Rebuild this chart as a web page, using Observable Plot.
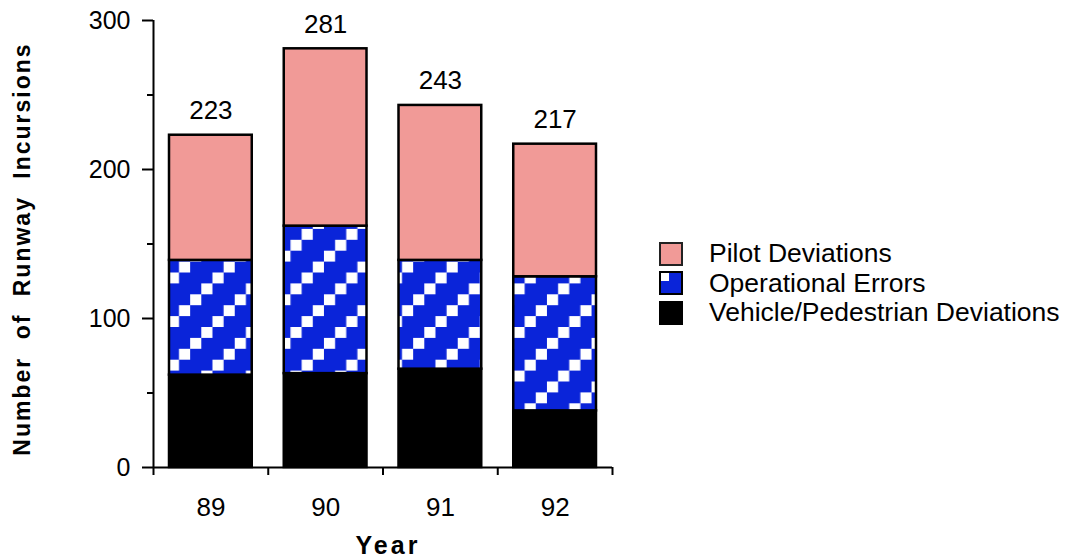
<!DOCTYPE html>
<html>
<head>
<meta charset="utf-8">
<script src="https://cdn.jsdelivr.net/npm/d3@7"></script>
<script src="https://cdn.jsdelivr.net/npm/@observablehq/plot@0.6"></script>
<style>
  body { margin: 0; background: #fff; font-family: "Liberation Sans", Arial, Helvetica, sans-serif; }
  #wrap { position: relative; width: 1067px; height: 557px; overflow: hidden; }
  #chart { position: absolute; left: 0; top: 0; }
  #legend { position: absolute; left: 659px; top: 239px; }
  .row { display: flex; align-items: center; height: 29.5px; font-size: 26.5px; color: #000; white-space: nowrap; }
  .row svg { flex: none; margin-right: 25px; }
</style>
</head>
<body>
<div id="wrap">
  <div id="chart"></div>
  <div id="legend"></div>
</div>
<script>
// ---- data ----
const years = [89, 90, 91, 92];
const xTickLabels = ["89", "90", "91", "92"];
const series = ["Vehicle/Pedestrian Deviations", "Operational Errors", "Pilot Deviations"];
const vehicle = [62, 63, 66, 38];
const operational = [77, 99, 73, 90];
const pilot = [84, 119, 104, 89];
const totals = [223, 281, 243, 217];
const yTicks = [0, 100, 200, 300];
const yMinorTicks = [50, 150, 250];
const yTitle = "Number of Runway Incursions";
const xTitle = "Year";

// ---- styles ----
const PINK = "#F19A97";
const BLUE = "#0A24D9";
const colors = ["#000000", "url(#checker)", PINK];

const seriesValues = [vehicle, operational, pilot];
const table = [];
years.forEach((yr, i) => {
  let base = 0;
  seriesValues.forEach((vals, s) => {
    table.push({year: yr, series: series[s], y1: base, y2: base + vals[i]});
    base += vals[i];
  });
});

const X0 = d3.min(years) - 0.5;
const X1 = d3.max(years) + 0.5;
const boundaries = [...years.map(y => y - 0.5), X1];
const yMax = d3.max(yTicks);

const chart = Plot.plot({
  width: 640,
  height: 557,
  marginLeft: 153,
  marginRight: 28,
  marginTop: 20,
  marginBottom: 90,
  style: {fontFamily: "'Liberation Sans', Arial, Helvetica, sans-serif", color: "#000", background: "#fff", overflow: "visible"},
  x: {type: "linear", domain: [X0, X1], axis: null},
  y: {domain: [0, yMax], axis: null},
  color: {type: "ordinal", domain: series, range: colors},
  marks: [
    Plot.rect(table, {
      x1: d => d.year - 0.5, x2: d => d.year + 0.5,
      y1: "y1", y2: "y2",
      fill: "series", stroke: "#000", strokeWidth: 2.5,
      insetLeft: 16, insetRight: 16
    }),
    Plot.ruleX([X0], {y1: 0, y2: yMax, strokeWidth: 2}),
    Plot.ruleY([0], {x1: X0, x2: X1, strokeWidth: 2}),
    Plot.axisY(yTicks, {tickSize: 11, tickPadding: 12, fontSize: 25, strokeWidth: 2, tickFormat: d => String(d)}),
    Plot.axisY(yMinorTicks, {tickSize: 6, strokeWidth: 2, tickFormat: () => ""}),
    Plot.axisX(boundaries, {tickSize: 8, strokeWidth: 2, tickFormat: () => ""}),
    Plot.axisX(years, {tickSize: 0, tickPadding: 30, fontSize: 26, tickFormat: (d, i) => xTickLabels[years.indexOf(d)]}),
    Plot.text(years, {x: d => d, y: (d, i) => totals[i], text: (d, i) => String(totals[i]), lineAnchor: "bottom", dy: -16, fontSize: 26}),
    Plot.text([yTitle], {frameAnchor: "left", textAnchor: "middle", dx: -131, dy: 5, rotate: -90, fontSize: 23, fontWeight: "bold"}),
    Plot.text([xTitle], {frameAnchor: "bottom", lineAnchor: "bottom", dx: 5, dy: 86, fontSize: 25, fontWeight: "bold"})
  ]
});

// pattern for the operational errors
const svg = d3.select(chart);
const defs = svg.insert("defs", ":first-child");
const tw = 44.6, th = 43.6;
const pat = defs.append("pattern")
  .attr("id", "checker")
  .attr("patternUnits", "userSpaceOnUse")
  .attr("x", 11.75).attr("y", 0)
  .attr("width", tw).attr("height", th);
pat.append("rect").attr("width", tw).attr("height", th).attr("fill", BLUE);
for (let k = 0; k < 4; k++) {
  pat.append("rect")
    .attr("x", (3 - k) * tw / 4).attr("y", k * th / 4)
    .attr("width", tw / 4).attr("height", th / 4)
    .attr("fill", "#fff");
}

// letter spacing on the axis titles
svg.selectAll("text").each(function() {
  const t = this.textContent;
  if (t === yTitle) { this.style.letterSpacing = "2px"; this.style.wordSpacing = "9px"; }
  if (t === xTitle) { this.style.letterSpacing = "3px"; }
});

document.getElementById("chart").appendChild(chart);

// legend (top to bottom: pilot, operational, vehicle)
const legend = d3.select("#legend");
[2, 1, 0].forEach(s => {
  const row = legend.append("div").attr("class", "row");
  const sw = row.append("svg").attr("width", 25).attr("height", 24);
  if (s === 2) {
    sw.append("rect").attr("x", 1).attr("y", 1).attr("width", 22).attr("height", 22)
      .attr("fill", PINK).attr("stroke", "#222").attr("stroke-width", 2);
  } else if (s === 1) {
    sw.append("rect").attr("x", 1).attr("y", 1).attr("width", 22).attr("height", 22)
      .attr("fill", BLUE).attr("stroke", "#000").attr("stroke-width", 2);
    sw.append("rect").attr("x", 2).attr("y", 2).attr("width", 8).attr("height", 8).attr("fill", "#fff");
  } else {
    sw.append("rect").attr("x", 0).attr("y", 0).attr("width", 24).attr("height", 24).attr("fill", "#000");
  }
  row.append("span").text(series[s]);
});
</script>
</body>
</html>
